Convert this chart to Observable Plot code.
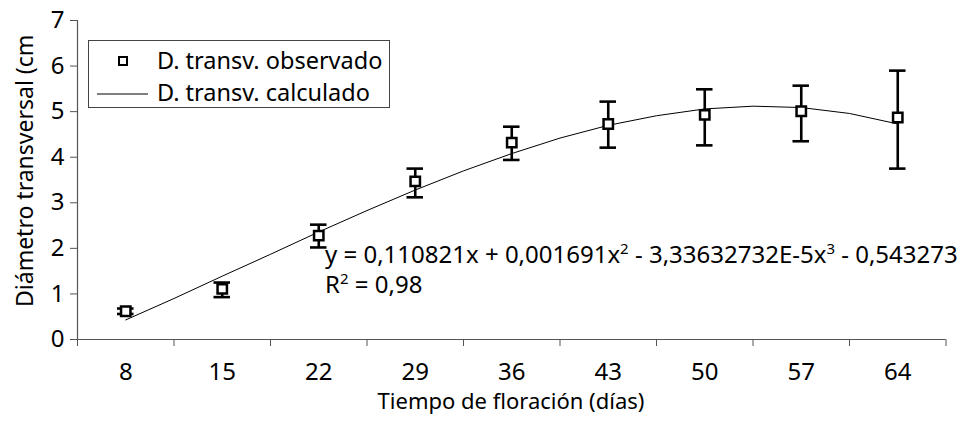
<!DOCTYPE html>
<html><head><meta charset="utf-8">
<script src="https://cdn.jsdelivr.net/npm/d3@7"></script>
<script src="https://cdn.jsdelivr.net/npm/@observablehq/plot@0.6"></script>
<style>body{margin:0;background:#fff} svg{display:block}</style>
</head><body><div id="chart"></div>
<script>
// Observed data (days of flowering)
const days = [8, 15, 22, 29, 36, 43, 50, 57, 64];
const observed = [0.62, 1.11, 2.28, 3.47, 4.32, 4.73, 4.93, 5.01, 4.87];
const errLow  = [0.56, 0.93, 2.02, 3.12, 3.94, 4.21, 4.26, 4.35, 3.75];
const errHigh = [0.68, 1.25, 2.52, 3.75, 4.67, 5.22, 5.49, 5.57, 5.90];
// Calculated curve
const calcDays = [8, 11.5, 15, 18.5, 22, 25.5, 29, 32.5, 36, 39.5, 43, 46.5, 50, 53.5, 57, 60.5, 64];
const calculated = [0.43, 0.90, 1.39, 1.87, 2.36, 2.83, 3.28, 3.70, 4.08, 4.42, 4.70, 4.91, 5.06, 5.12, 5.09, 4.96, 4.73];
// Axes
const yTicks = [0, 1, 2, 3, 4, 5, 6, 7];
const xBoundaries = [4.5, 11.5, 18.5, 25.5, 32.5, 39.5, 46.5, 53.5, 60.5, 67.5];
const xLabel = "Tiempo de floración (días)";
const yLabel = "Diámetro transversal (cm)";
const legendLabels = ["D. transv. observado", "D. transv. calculado"];

const obs = days.map((d, i) => ({day: d, v: observed[i], lo: errLow[i], hi: errHigh[i]}));
const calc = calcDays.map((d, i) => ({day: d, v: calculated[i]}));

const FONT = "'Noto Sans', 'DejaVu Sans', sans-serif";
const axisColor = "#555";

const svg = Plot.plot({
  width: 967,
  height: 422,
  marginLeft: 77,
  marginRight: 21.5,
  marginTop: 20,
  marginBottom: 83,
  style: {fontFamily: FONT, color: "#000", background: "#fff", overflow: "visible"},
  x: {domain: [4.5, 67.5], axis: null},
  y: {domain: [0, 7], axis: null},
  marks: [
    Plot.axisY({ticks: yTicks, tickFormat: d => String(d), tickSize: 7, tickPadding: 6, fontSize: 24, stroke: axisColor, label: null}),
    Plot.axisX({ticks: xBoundaries, tickSize: 7, tickFormat: () => "", stroke: axisColor, label: null}),
    Plot.axisX({ticks: days, tickFormat: d => String(d), tickSize: 0, tickPadding: 23, fontSize: 24, label: null}),
    Plot.ruleX([4.5], {stroke: axisColor, strokeWidth: 1.2}),
    Plot.ruleY([0], {stroke: axisColor, strokeWidth: 1.2}),
    Plot.line(calc, {x: "day", y: "v", stroke: "#000", strokeWidth: 1}),
    Plot.ruleX(obs, {x: "day", y1: "lo", y2: "hi", stroke: "#000", strokeWidth: 2.6}),
    Plot.ruleY(obs, {y: "hi", x1: d => d.day - 0.6, x2: d => d.day + 0.6, stroke: "#000", strokeWidth: 2.6}),
    Plot.ruleY(obs, {y: "lo", x1: d => d.day - 0.6, x2: d => d.day + 0.6, stroke: "#000", strokeWidth: 2.6}),
    Plot.dot(obs, {x: "day", y: "v", symbol: "square", r: 5.3, fill: "#fff", stroke: "#000", strokeWidth: 2.5})
  ]
});

const s = d3.select(svg);
const txt = (sel) => sel.style("font-family", FONT).attr("fill", "#000");

// x axis title
txt(s.append("text")).attr("x", 511).attr("y", 409).attr("text-anchor", "middle")
  .style("font-size", "22px").text(xLabel);

// y axis title (clipped at top as in the original)
s.append("clipPath").attr("id", "yclip").append("rect")
  .attr("x", 0).attr("y", 35).attr("width", 60).attr("height", 400);
txt(s.append("g").attr("clip-path", "url(#yclip)").append("text"))
  .attr("transform", "translate(33,307) rotate(-90)")
  .attr("text-anchor", "start")
  .style("font-size", "23px").text(yLabel);

// Equation and R²
const eq = txt(s.append("text")).attr("x", 325).attr("y", 263).attr("text-anchor", "start")
  .style("font-size", "24px");
eq.append("tspan").text("y = 0,110821x + 0,001691x");
eq.append("tspan").attr("dy", -9).style("font-size", "15px").text("2");
eq.append("tspan").attr("dy", 9).text(" - 3,33632732E-5x");
eq.append("tspan").attr("dy", -9).style("font-size", "15px").text("3");
eq.append("tspan").attr("dy", 9).text(" - 0,543273");

const r2 = txt(s.append("text")).attr("x", 325).attr("y", 293).attr("text-anchor", "start")
  .style("font-size", "24px");
r2.append("tspan").text("R");
r2.append("tspan").attr("dy", -9).style("font-size", "15px").text("2");
r2.append("tspan").attr("dy", 9).text(" = 0,98");

// Legend
const lg = s.append("g");
lg.append("rect").attr("x", 88.5).attr("y", 40.5).attr("width", 301).attr("height", 67)
  .attr("fill", "#fff").attr("stroke", "#444").attr("stroke-width", 1);
lg.append("rect").attr("x", 119).attr("y", 57).attr("width", 8).attr("height", 8)
  .attr("fill", "#fff").attr("stroke", "#000").attr("stroke-width", 2);
lg.append("line").attr("x1", 97).attr("x2", 148).attr("y1", 94).attr("y2", 94)
  .attr("stroke", "#000").attr("stroke-width", 1);
txt(lg.append("text")).attr("x", 157).attr("y", 69).attr("text-anchor", "start")
  .style("font-size", "23.5px").text(legendLabels[0]);
txt(lg.append("text")).attr("x", 157).attr("y", 101).attr("text-anchor", "start")
  .style("font-size", "23.5px").text(legendLabels[1]);

document.getElementById("chart").appendChild(svg);
</script>
</body></html>
